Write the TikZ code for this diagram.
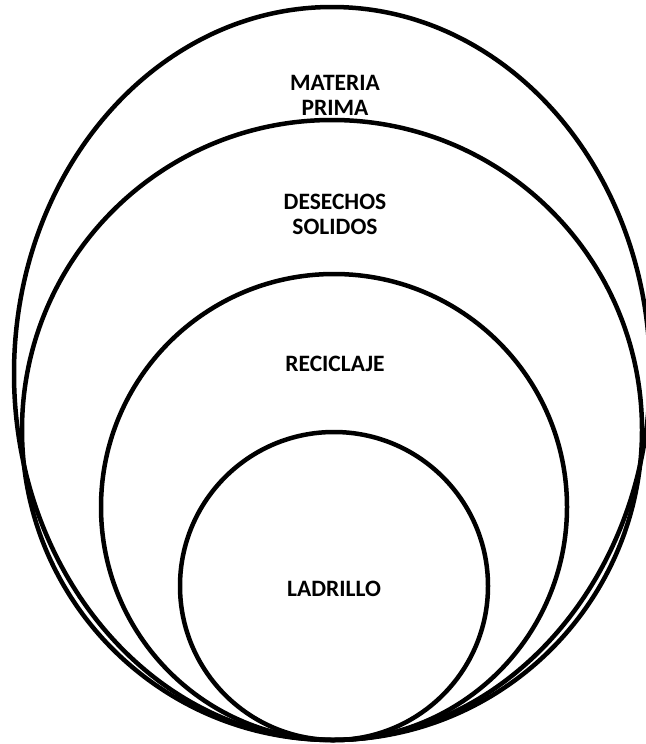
\documentclass[tikz,border=0pt]{standalone}
\usepackage{fontspec}
\setmainfont{Carlito}
\begin{document}
\begin{tikzpicture}[x=1pt,y=-1pt,
  ring/.style={draw=black,line width=4.5pt},
  label/.style={font=\fontsize{23.5}{25}\selectfont\bfseries,align=center,inner sep=0pt}]
\useasboundingbox (0,0) rectangle (645,744);
\draw[ring] (332,373.5) ellipse [x radius=318, y radius=366.5];
\draw[ring] (332,430) circle [radius=310];
\draw[ring] (334,507) circle [radius=233];
\draw[ring] (334,586) circle [radius=154];
\node[label] (materia) at (335,95) {MATERIA\\PRIMA};
\node[label] (desechos) at (335,214) {DESECHOS\\SOLIDOS};
\node[label] (reciclaje) at (335,364) {RECICLAJE};
\node[label] (ladrillo) at (334,589) {LADRILLO};
\end{tikzpicture}
\end{document}
